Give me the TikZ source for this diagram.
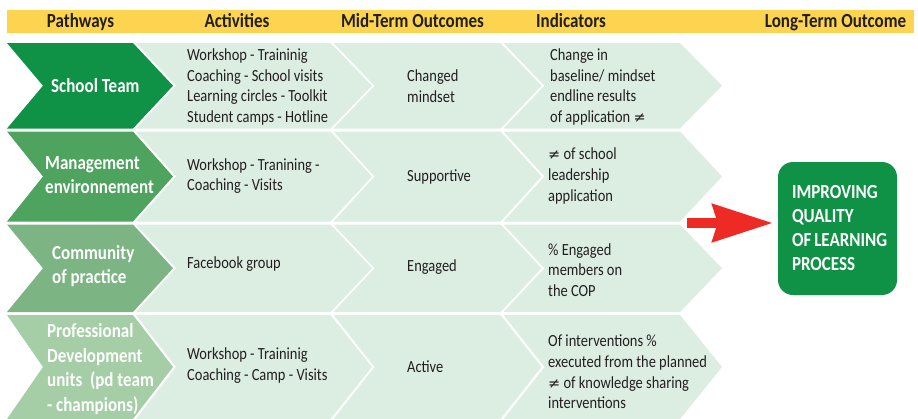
\documentclass[tikz,border=0pt]{standalone}
\usepackage{fontspec}
\setmainfont[FakeStretch=0.85]{Carlito}
\newfontfamily\symf[Scale=0.85]{DejaVu Sans}
\newcommand\nq{{\symf ≠}}
\usetikzlibrary{arrows.meta}
\definecolor{hdr}{HTML}{FDD44F}
\definecolor{txt}{HTML}{231F20}
\definecolor{gA}{HTML}{0F9246}
\definecolor{gB}{HTML}{4EA35F}
\definecolor{gC}{HTML}{7DB483}
\definecolor{gD}{HTML}{A5CEA6}
\definecolor{lite}{HTML}{DCEDE2}
\definecolor{arred}{HTML}{EE2A24}
\newcommand\mychev[7]{%
  \fill[#1] (#2,#4) -- (#3,#4) -- ({#3+#7},{(#4+#5)/2}) -- (#3,#5) -- (#2,#5) -- ({#2+#6},{(#4+#5)/2}) -- cycle;}
\newcommand\chevrow[3]{%
  \mychev{#3}{7}{133}{#1}{#2}{36}{40}%
  \mychev{lite}{136}{330.5}{#1}{#2}{40}{41.5}%
  \mychev{lite}{333.5}{500.5}{#1}{#2}{41}{41}%
  \mychev{lite}{503.5}{680}{#1}{#2}{41}{42}}
\begin{document}
\begin{tikzpicture}[x=1pt,y=-1pt,
  hd/.style={font=\bfseries\fontsize{20}{24}\selectfont, text=txt, anchor=base, inner sep=0pt},
  pw/.style={font=\bfseries\fontsize{20}{24.5}\selectfont, text=white, align=left, anchor=west, inner sep=0pt},
  bd/.style={font=\fontsize{17}{20.7}\selectfont, text=txt, align=left, anchor=west, inner sep=0pt},
  ltbox/.style={fill=gA, rounded corners=15pt, minimum width=119pt, minimum height=133pt,
    text width=91pt, inner xsep=14pt, align=left, text=white,
    font=\bfseries\fontsize{20}{24}\selectfont},
  arr/.style={arred, line width=10pt, -{Stealth[length=60pt,width=37pt,inset=5pt]}, shorten >=5pt}]
\useasboundingbox (0,0) rectangle (918,418);
% header
\fill[hdr] (7,10) rectangle (914,33);
\node[hd] (h1) at (80.5,27) {Pathways};
\node[hd] (h2) at (237,27) {Activities};
\node[hd] (h3) at (412.5,27) {Mid-Term Outcomes};
\node[hd] (h4) at (571,27) {Indicators};
\node[hd] (h5) at (835.5,27) {Long-Term Outcome};
% rows
\chevrow{43}{128.5}{gA}
\chevrow{131.5}{221.5}{gB}
\chevrow{224.5}{312}{gC}
\chevrow{315}{419}{gD}
% row 1
\node[pw] (p1) at (51,85.7) {School Team};
\node[bd] (a1) at (187,87) {Workshop - Traininig\\Coaching - School visits\\Learning circles - Toolkit\\Student camps - Hotline};
\node[bd] (m1) at (407,86.5) {Changed\\mindset};
\node[bd] (i1) at (550,87) {Change in\\baseline/ mindset\\endline results\\of application \nq};
% row 2
\node[pw] (p2) at (45,175) {Management\\environnement};
\node[bd] (a2) at (187,176) {Workshop - Tranining -\\Coaching - Visits};
\node[bd] (m2) at (407,177) {Supportive};
\node[bd] (i2) at (548,176) {\nq{} of school\\leadership\\application};
% row 3
\node[pw] (p3) at (52,266) {Community\\of practice};
\node[bd] (a3) at (187,264) {Facebook group};
\node[bd] (m3) at (407,267) {Engaged};
\node[bd] (i3) at (548,270) {\% Engaged\\members on\\the COP};
% row 4
\node[pw] (p4) at (47,369) {Professional\\Development\\units~~(pd team\\- champions)};
\node[bd] (a4) at (187,365.5) {Workshop - Traininig\\Coaching - Camp - Visits};
\node[bd] (m4) at (407,367) {Active};
\node[bd] (i4) at (548,372) {Of interventions \%\\executed from the planned\\\nq{} of knowledge sharing\\interventions};
% long-term outcome
\node[ltbox] (lt) at (837.5,228.5) {IMPROVING\\QUALITY\\\mbox{OF\hspace{3pt}LEARNING}\\PROCESS};
\coordinate (arS) at (687,223);
\draw[arr] (arS) -- (arS -| lt.west);
\end{tikzpicture}
\end{document}
